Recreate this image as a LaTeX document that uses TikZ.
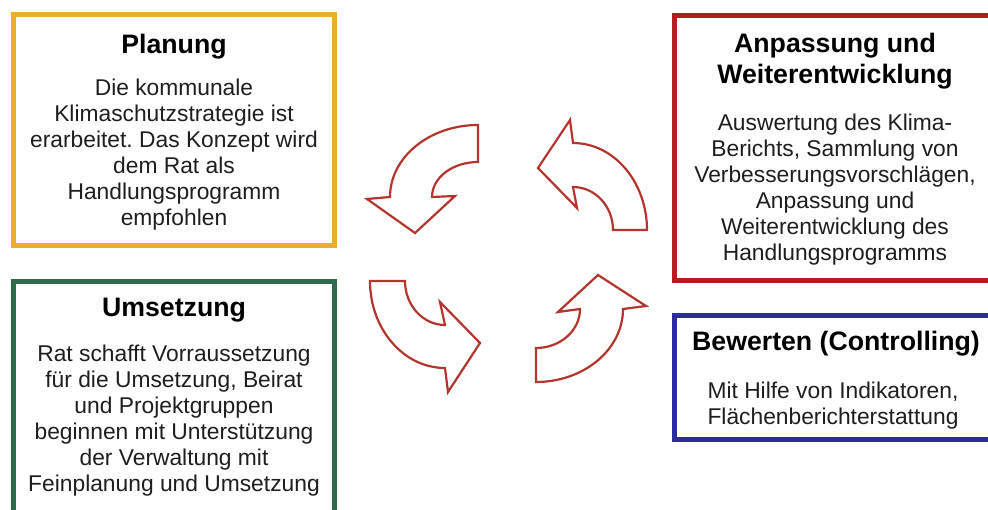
\documentclass[tikz,border=0pt]{standalone}
\usepackage{fontspec}
\setmainfont{Liberation Sans}
\frenchspacing
\definecolor{planorange}{HTML}{ECAE2E}
\definecolor{adaptred}{HTML}{B41E1E}
\definecolor{dogreen}{HTML}{2D6B4B}
\definecolor{ratingblue}{HTML}{2C2C9C}
\definecolor{arrowred}{HTML}{B3352D}
\definecolor{bodygray}{HTML}{1E1E1E}
\begin{document}
\begin{tikzpicture}[x=1pt,y=1pt,
    boxframe/.style={line width=5pt},
    titletext/.style={font=\bfseries\fontsize{26.7}{31}\selectfont,align=center,inner sep=0pt,anchor=north},
    bodytext/.style={font=\fontsize{22.8}{26}\selectfont,text=bodygray,align=center,inner sep=0pt,anchor=north},
    cyclearrow/.style={draw=arrowred,fill=white,line width=2.2pt,line join=miter}]
    \useasboundingbox (0,0) rectangle (988,-509);
    \clip (0,0) rectangle (988,-509);
    % frames
    \draw[boxframe,draw=planorange] (13,-14.5) rectangle (334,-245);
    \draw[boxframe,draw=adaptred] (674,-15) rectangle (995,-280.5);
    \draw[boxframe,draw=dogreen] (13,-281) rectangle (334,-520);
    \draw[boxframe,draw=ratingblue] (674,-315.5) rectangle (995,-439);
    % texts
    \node[titletext] (plan) at (174,-33.5) {Planung};
    \node[bodytext] (plantext) at (174,-78.4) {Die kommunale\\Klimaschutzstrategie ist\\erarbeitet. Das Konzept wird\\dem Rat als\\Handlungsprogramm\\empfohlen};
    \node[titletext] (adapt) at (835,-32.5) {Anpassung und\\Weiterentwicklung};
    \node[bodytext] (adapttext) at (835,-113.4) {Auswertung des Klima-\\Berichts, Sammlung von\\Verbesserungsvorschl\"agen,\\Anpassung und\\Weiterentwicklung des\\Handlungsprogramms};
    \node[titletext] (do) at (174,-297.5) {Umsetzung};
    \node[bodytext] (dotext) at (174,-344.4) {Rat schafft Vorraussetzung\\f\"ur die Umsetzung, Beirat\\und Projektgruppen\\beginnen mit Unterst\"utzung\\der Verwaltung mit\\Feinplanung und Umsetzung};
    \node[titletext] (rate) at (836,-330.5) {Bewerten (Controlling)};
    \node[bodytext] (ratetext) at (833,-381.4) {Mit Hilfe von Indikatoren,\\Fl\"achenberichterstattung};
    % cycle arrows
    \draw[cyclearrow] (478,-125) arc[start angle=90,end angle=180,x radius=88pt,y radius=72pt]
        -- (367,-199) -- (415,-233) -- (455,-196) -- (432,-197)
        arc[start angle=180,end angle=90,x radius=46pt,y radius=35pt] -- cycle;
    \draw[cyclearrow] (647,-230) arc[start angle=0,end angle=90,x radius=74pt,y radius=87pt]
        -- (570,-120) -- (538,-168) -- (577,-208) -- (573,-187)
        arc[start angle=90,end angle=0,x radius=40pt,y radius=43pt] -- cycle;
    \draw[cyclearrow] (370,-281) arc[start angle=180,end angle=270,x radius=75pt,y radius=87pt]
        -- (448,-392) -- (480,-343) -- (440,-302) -- (445,-325)
        arc[start angle=270,end angle=180,x radius=40pt,y radius=44pt] -- cycle;
    \draw[cyclearrow] (536,-382) arc[start angle=270,end angle=360,x radius=87pt,y radius=73pt]
        -- (646,-306) -- (598,-275) -- (558,-312) -- (580,-309)
        arc[start angle=0,end angle=-90,x radius=44pt,y radius=39pt] -- cycle;
\end{tikzpicture}
\end{document}
